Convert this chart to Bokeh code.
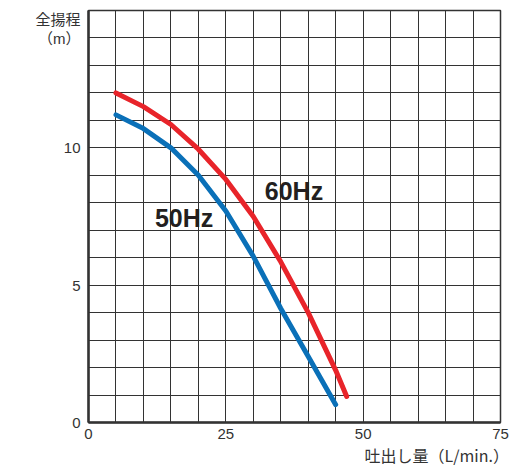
from bokeh.plotting import figure
from bokeh.models import FixedTicker, Range1d, LinearAxis, Label
from bokeh.embed import file_html
from bokeh.resources import INLINE

# --- data ---
flow_60 = [5, 10, 15, 20, 25, 30, 35, 40, 45, 47]
head_60 = [12.0, 11.5, 10.85, 9.95, 8.85, 7.5, 5.85, 4.0, 1.9, 0.95]
flow_50 = [5, 10, 15, 20, 25, 30, 35, 40, 45]
head_50 = [11.2, 10.7, 10.0, 9.0, 7.7, 6.05, 4.15, 2.4, 0.65]
x_ticks = [0, 25, 50, 75]
y_ticks = [0, 5, 10]
x_grid = list(range(0, 80, 5))
y_grid = list(range(0, 16))
series_labels = ["60Hz", "50Hz"]
y_title = ["全揚程", "（m）"]
x_title = "吐出し量（L/min.）"

FONT = "'Liberation Sans', 'Noto Sans CJK JP', sans-serif"
CJK = "'Noto Sans CJK JP', sans-serif"

p = figure(width=519, height=469, output_backend="svg", toolbar_location=None,
           x_range=Range1d(0, 75), y_range=Range1d(0, 15),
           min_border_left=88, min_border_right=19, min_border_top=10, min_border_bottom=47)

# y axis: numeric ticks plus the axis title lines at the top-left
y_title_pos = [14.66, 13.98]
p.yaxis.ticker = FixedTicker(ticks=y_ticks + y_title_pos)
p.yaxis.major_label_overrides = {y_title_pos[0]: y_title[0], y_title_pos[1]: y_title[1]}

p.xaxis.ticker = FixedTicker(ticks=x_ticks)
p.xgrid.ticker = FixedTicker(ticks=x_grid)
p.ygrid.ticker = FixedTicker(ticks=y_grid)
for g in (p.xgrid, p.ygrid):
    g.grid_line_color = "#333333"
    g.grid_line_width = 1
    g.grid_line_alpha = 1.0

for ax in (p.xaxis, p.yaxis):
    ax.axis_line_color = "#333333"
    ax.axis_line_width = 2.5
    ax.major_tick_line_color = None
    ax.minor_tick_line_color = None
    ax.major_tick_out = 0
    ax.major_tick_in = 0
    ax.minor_tick_out = 0
    ax.minor_tick_in = 0
    ax.major_label_text_font = FONT
    ax.major_label_text_font_size = "15px"
    ax.major_label_text_color = "#333333"
p.yaxis.major_label_standoff = 8
p.xaxis.major_label_standoff = 6

# x axis title, right side below the tick labels
x_title_pos = 63.4
ax2 = LinearAxis(ticker=FixedTicker(ticks=[x_title_pos]),
                 major_label_overrides={x_title_pos: x_title})
ax2.axis_line_color = None
ax2.major_tick_line_color = None
ax2.minor_tick_line_color = None
ax2.major_tick_out = 0
ax2.major_tick_in = 0
ax2.minor_tick_out = 0
ax2.minor_tick_in = 0
ax2.major_label_standoff = 1
ax2.major_label_text_font = CJK
ax2.major_label_text_font_size = "16px"
ax2.major_label_text_color = "#333333"
p.add_layout(ax2, "below")

p.outline_line_color = "#333333"
p.outline_line_width = 1.5
p.outline_line_alpha = 1.0

p.line(flow_60, head_60, line_color="#e8242a", line_width=5, line_cap="round", line_join="round")
p.line(flow_50, head_50, line_color="#0a70b8", line_width=5, line_cap="round", line_join="round")

p.add_layout(Label(x=37.4, y=8.44, text=series_labels[0], text_align="center", text_baseline="middle",
                   text_font="Liberation Sans", text_font_style="bold", text_font_size="25px",
                   text_color="#231f20"))
p.add_layout(Label(x=17.4, y=7.44, text=series_labels[1], text_align="center", text_baseline="middle",
                   text_font="Liberation Sans", text_font_style="bold", text_font_size="25px",
                   text_color="#231f20"))

open("out.html", "w").write(file_html(p, INLINE))
